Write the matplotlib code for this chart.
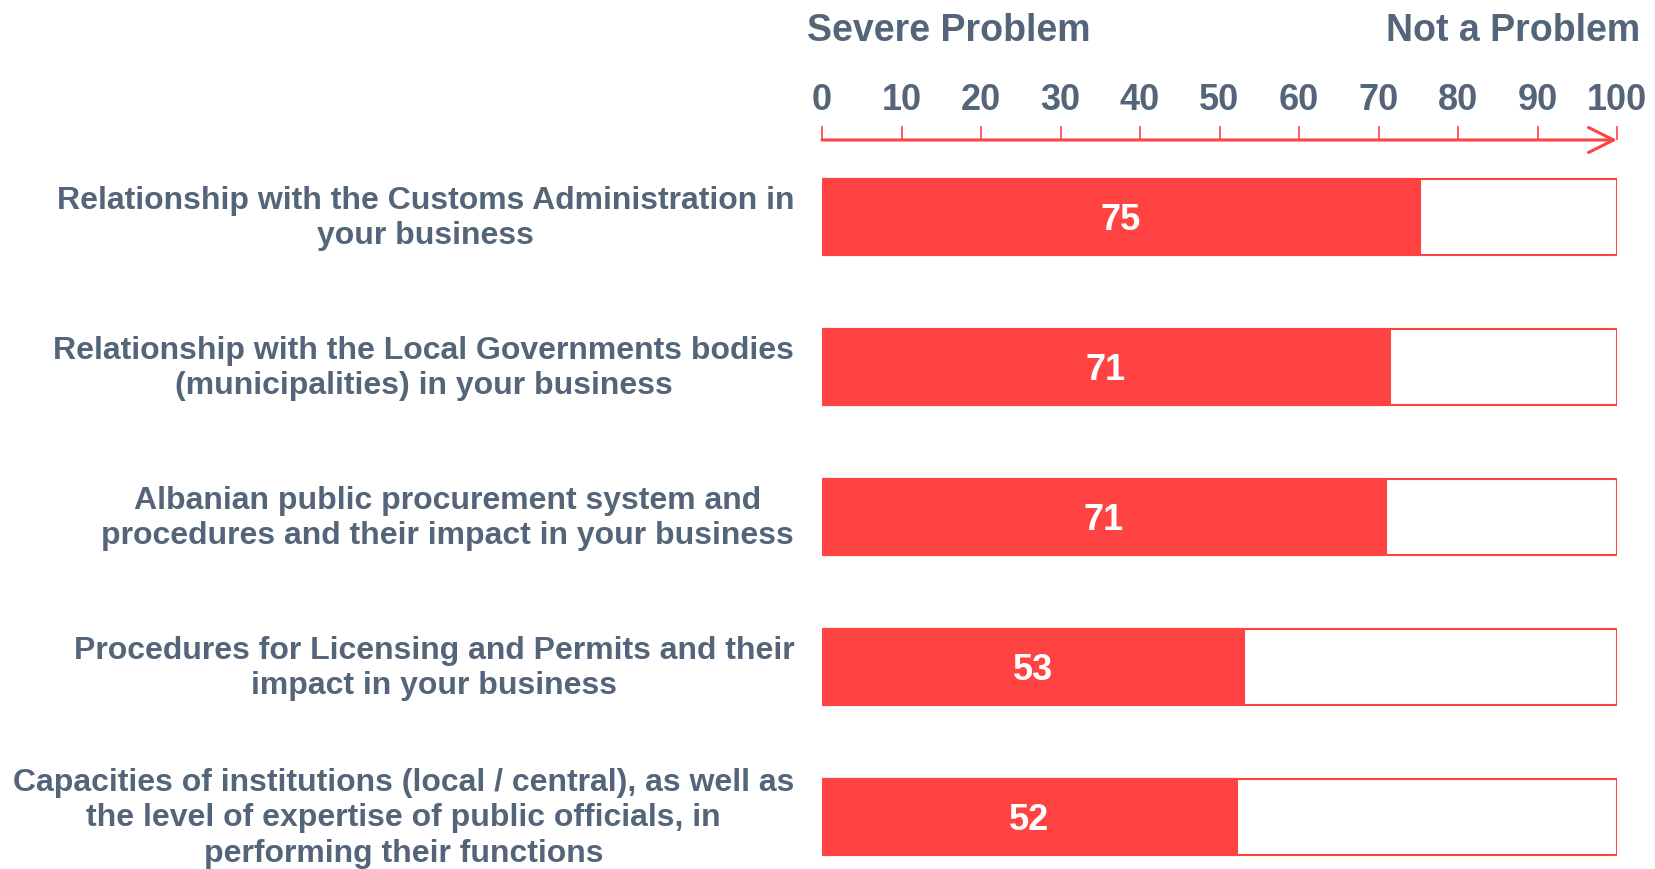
import matplotlib.pyplot as plt

plt.rcParams['font.family'] = ['Liberation Sans', 'DejaVu Sans']
plt.rcParams['font.weight'] = 'bold'

categories = [
    "Relationship with the Customs Administration in\nyour business",
    "Relationship with the Local Governments bodies\n(municipalities) in your business",
    "Albanian public procurement system and\nprocedures and their impact in your business",
    "Procedures for Licensing and Permits and their\nimpact in your business",
    "Capacities of institutions (local / central), as well as\nthe level of expertise of public officials, in\nperforming their functions",
]
values = [75.2, 71.4, 70.9, 53.1, 52.2]
ticks = [0, 10, 20, 30, 40, 50, 60, 70, 80, 90, 100]

red = '#FF4343'
grey = '#54657A'

fig = plt.figure(figsize=(16.55, 8.69), dpi=100)
ax = fig.add_axes([822 / 1655, 0, (1617 - 822) / 1655, 1 - 140 / 869])

ypos = list(range(len(values)))
ax.barh(ypos, [100] * len(values), height=0.507, color='white', edgecolor=red, linewidth=1.5)
ax.barh(ypos, values, height=0.507, color=red, edgecolor=red, linewidth=1.5)

for y, v in zip(ypos, values):
    ax.text(v / 2, y, '%.0f' % v, ha='center', va='center_baseline', color='white',
            fontsize=26, fontweight='bold')

for y, label in zip(ypos, categories):
    ax.text(-3.5, y + 0.01, label, ha='right', va='center', multialignment='center',
            color=grey, fontsize=23, fontweight='bold', linespacing=1.25)

ax.set_xlim(0, 100)
ax.set_ylim(4.347, -0.513)

for s in ['left', 'right', 'bottom', 'top']:
    ax.spines[s].set_visible(False)
ax.set_yticks([])
ax.xaxis.tick_top()
ax.set_xticks(ticks)
ax.set_xticklabels([str(t) for t in ticks], fontsize=26, fontweight='bold', color=grey)
ax.tick_params(axis='x', top=True, bottom=False, direction='out', length=10, width=1.2,
               color=red, pad=6)

# axis line with arrow
ax.annotate('', xy=(100, 1.0), xytext=(0, 1.0), xycoords=('data', 'axes fraction'),
            arrowprops=dict(arrowstyle='->,head_length=0.6,head_width=0.3', color=red, lw=2.2,
                            mutation_scale=30, shrinkA=0, shrinkB=0), annotation_clip=False)

fig.text(807 / 1655, 1 - 31 / 869, 'Severe Problem', ha='left', va='center',
         color=grey, fontsize=27, fontweight='bold')
fig.text(1640 / 1655, 1 - 31 / 869, 'Not a Problem', ha='right', va='center',
         color=grey, fontsize=27, fontweight='bold')

fig.savefig('out.png', dpi=100)
